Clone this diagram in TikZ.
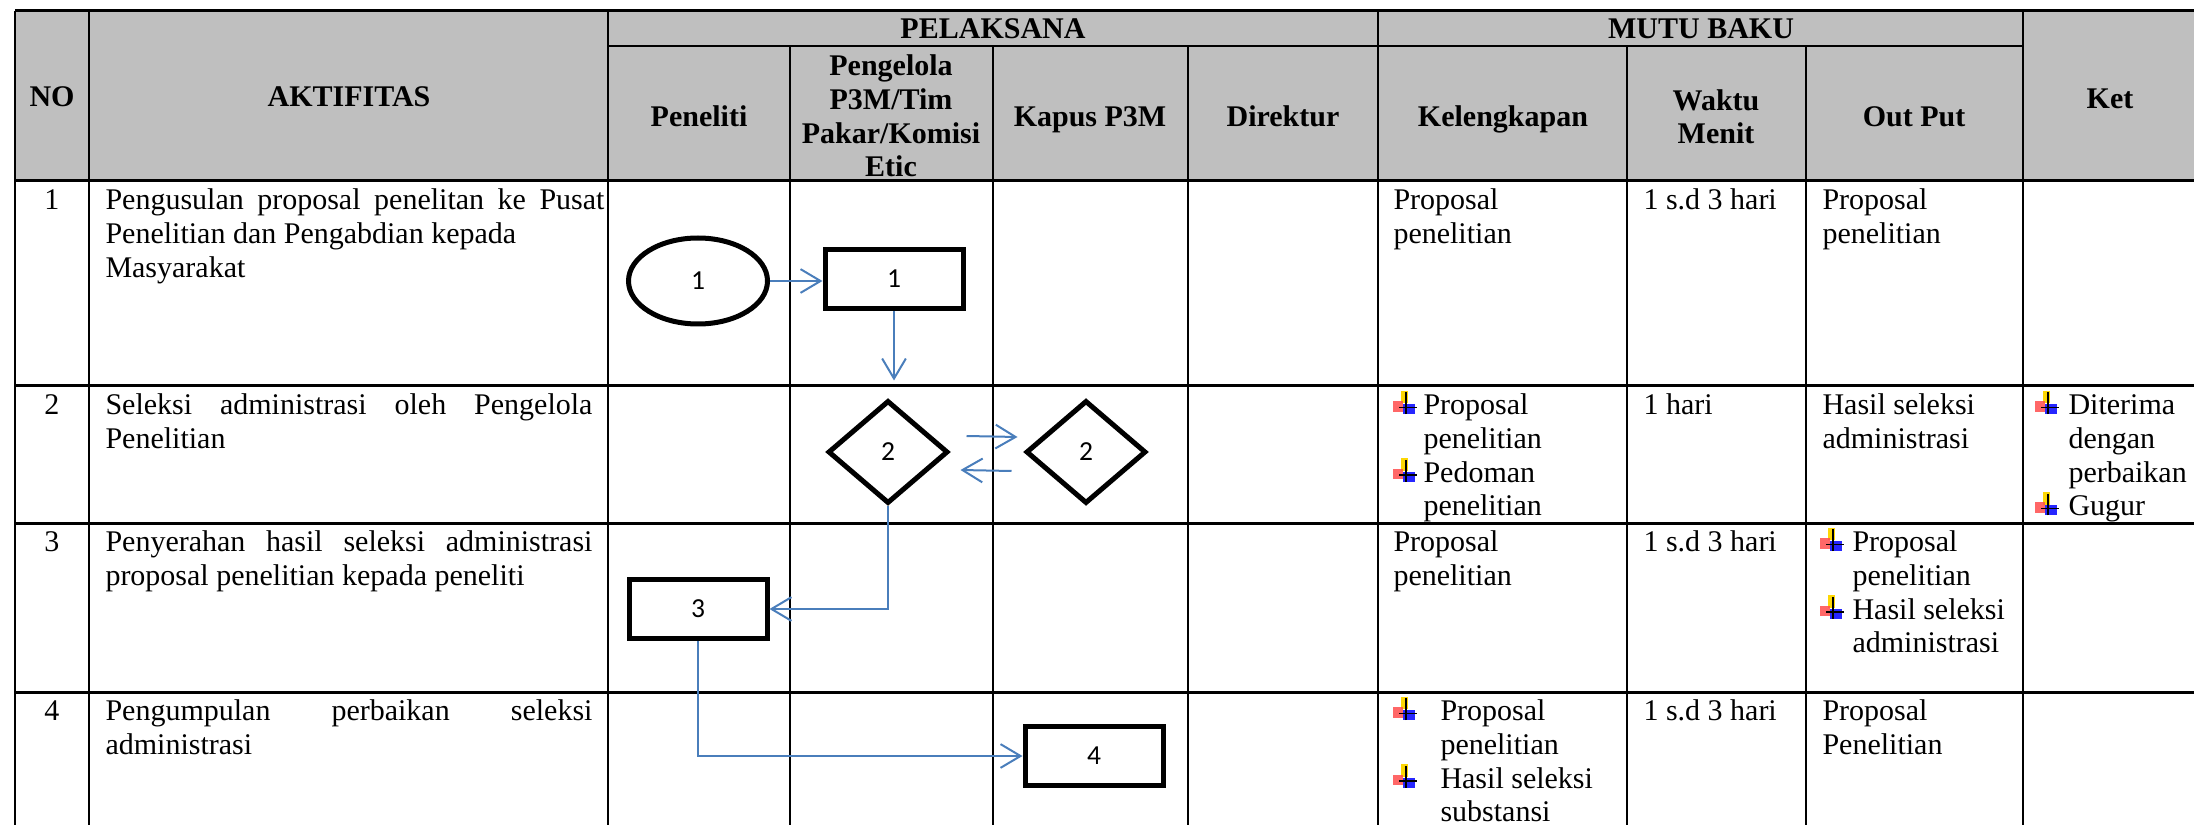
\documentclass[tikz,border=0pt]{standalone}
\usepackage{fontspec}
\setmainfont{Liberation Serif}
\newfontfamily\calibri{Carlito}
\usepackage{tikz}
\usetikzlibrary{arrows.meta,shapes.geometric}

\definecolor{hdrgray}{RGB}{191,191,191}
\definecolor{flowblue}{RGB}{74,126,187}

% bullet picture used in the list cells
\newcommand{\bulicon}{\tikz[baseline=0pt,x=1pt,y=1pt]{%
  \fill[yellow!75!orange] (3.3,4.5) rectangle (6,9.5);
  \fill[red!70,opacity=0.85] (0,1.2) rectangle (4.3,5.4);
  \fill[blue!85] (4,0.2) rectangle (9,4.2);
  \draw[line width=0.6pt] (5.4,0.2) -- (5.4,8.9);
  \draw[line width=0.6pt] (2.6,2.9) -- (9.8,2.9);}}
\newcommand{\bul}[1]{\makebox[#1][l]{\bulicon}}

\begin{document}
\begin{tikzpicture}[x=0.4pt,y=-0.4pt,
    txt/.style={inner sep=0pt, font=\fontsize{12}{13.5}\selectfont},
    hdr/.style={inner sep=0pt, font=\fontsize{12}{13.5}\selectfont\bfseries},
    cell/.style={txt, anchor=north west, align=left},
    shp/.style={draw, line width=2pt, inner sep=0pt, font=\calibri\fontsize{11}{13}\selectfont},
    proc/.style={shp, rectangle, minimum width=55.2pt, minimum height=23.8pt},
    dec/.style={shp, diamond, minimum width=48pt, minimum height=41.2pt},
    flow/.style={draw=flowblue, line width=0.8pt, -{Straight Barb[length=8pt,width=9.5pt]}}]
    \useasboundingbox (0,0) rectangle (2194,825);
    \clip (0,0) rectangle (2194,825);

    % Header band and grid
    \fill[hdrgray] (15,11) rectangle (2210,181);
    \foreach \y in {11,181,386,523,692}
        \draw[line width=1.2pt] (15,\y) -- (2210,\y);
    \draw[line width=1pt] (608,46) -- (2023,46);
    \foreach \x in {15,89,608,1378,2023}
        \draw[line width=0.9pt] (\x,11) -- (\x,840);
    \foreach \x in {790,993,1188,1627,1806}
        \draw[line width=0.9pt] (\x,46) -- (\x,840);

    % Header texts
    \node[hdr,anchor=base] (hno) at (52,107) {NO};
    \node[hdr,anchor=base] (hakt) at (349,107) {AKTIFITAS};
    \node[hdr,anchor=base] (hpel) at (993,39) {PELAKSANA};
    \node[hdr,anchor=base] (hmutu) at (1701,39) {MUTU BAKU};
    \node[hdr,anchor=base] (hket) at (2110,109) {Ket};
    \node[hdr,anchor=base] (hpen) at (699,127) {Peneliti};
    \node[hdr,anchor=north,align=center] (hpeng) at (891,51.5) {\strut Pengelola\\P3M/Tim\\Pakar/Komisi\\Etic};
    \node[hdr,anchor=base] (hkap) at (1090,127) {Kapus P3M};
    \node[hdr,anchor=base] (hdir) at (1283,127) {Direktur};
    \node[hdr,anchor=base] (hkel) at (1503,127) {Kelengkapan};
    \node[hdr,anchor=north,align=center] (hwak) at (1716,86) {\strut Waktu\\Menit};
    \node[hdr,anchor=base] (hout) at (1914,127) {Out Put};

    % Row numbers
    \node[txt,anchor=north] (n1) at (52,185.4) {\strut 1};
    \node[txt,anchor=north] (n2) at (52,390.4) {\strut 2};
    \node[txt,anchor=north] (n3) at (52,527.4) {\strut 3};
    \node[txt,anchor=north] (n4) at (52,696.4) {\strut 4};

    % Activities
    \node[cell,text width=199.6pt,align=justify] (a1) at (105,185.4)
        {\strut Pengusulan proposal penelitan ke Pusat\linebreak Penelitian dan Pengabdian kepada\\Masyarakat};
    \node[cell,text width=194.8pt,align=justify] (a2) at (105,390.4)
        {\strut Seleksi administrasi oleh Pengelola\linebreak Penelitian};
    \node[cell,text width=194.8pt,align=justify] (a3) at (105,527.4)
        {\strut Penyerahan hasil seleksi administrasi\linebreak proposal penelitian kepada peneliti};
    \node[cell,text width=194.8pt,align=justify] (a4) at (105,696.4)
        {\strut Pengumpulan perbaikan seleksi\linebreak administrasi};

    % Kelengkapan
    \node[cell] (k1) at (1393,185.4) {\strut Proposal\\penelitian};
    \node[cell] (k2) at (1392,390.4) {\strut\bul{12.4pt}Proposal\\\hspace*{12.4pt}penelitian\\\bul{12.4pt}Pedoman\\\hspace*{12.4pt}penelitian};
    \node[cell] (k3) at (1393,527.4) {\strut Proposal\\penelitian};
    \node[cell] (k4) at (1392,696.4) {\strut\bul{19.2pt}Proposal\\\hspace*{19.2pt}penelitian\\\bul{19.2pt}Hasil seleksi\\\hspace*{19.2pt}substansi};

    % Waktu
    \node[cell] (w1) at (1643,185.4) {\strut 1 s.d 3 hari};
    \node[cell] (w2) at (1643,390.4) {\strut 1 hari};
    \node[cell] (w3) at (1643,527.4) {\strut 1 s.d 3 hari};
    \node[cell] (w4) at (1643,696.4) {\strut 1 s.d 3 hari};

    % Out Put
    \node[cell] (o1) at (1822,185.4) {\strut Proposal\\penelitian};
    \node[cell] (o2) at (1822,390.4) {\strut Hasil seleksi\\administrasi};
    \node[cell] (o3) at (1819,527.4) {\strut\bul{13.2pt}Proposal\\\hspace*{13.2pt}penelitian\\\bul{13.2pt}Hasil seleksi\\\hspace*{13.2pt}administrasi};
    \node[cell] (o4) at (1822,696.4) {\strut Proposal\\Penelitian};

    % Ket
    \node[cell] (t2) at (2034,390.4) {\strut\bul{13.6pt}Diterima\\\hspace*{13.6pt}dengan\\\hspace*{13.6pt}perbaikan\\\bul{13.6pt}Gugur};

    % Flow shapes
    \node[shp,ellipse,minimum width=55.6pt,minimum height=34.4pt] (e1) at (698,281) {1};
    \node[proc] (b1) at (894,279) {1};
    \node[dec] (d2a) at (888,452) {2};
    \node[dec] (d2b) at (1086,452) {2};
    \node[proc] (b3) at (698,609) {3};
    \node[proc] (b4) at (1094,756) {4};

    % Connectors
    \draw[flow] (e1.east) -- (e1.east -| b1.west);
    \draw[flow,shorten >=7pt] (b1.south) -- (b1.south |- d2a.north);
    \draw[flow] ([shift={(16,-16)}]d2a.east) -- ([shift={(-6,-15)}]d2b.west);
    \draw[flow] ([shift={(-12,19)}]d2b.west) -- ([shift={(10,18)}]d2a.east);
    \draw[flow] (d2a.south) |- (b3.east);
    \draw[flow] (b3.south) |- (b4.west);
\end{tikzpicture}
\end{document}
